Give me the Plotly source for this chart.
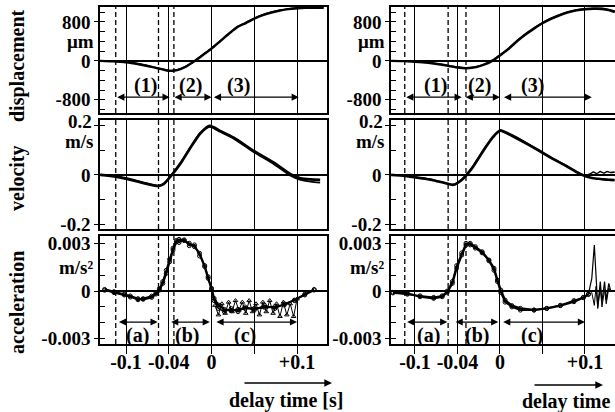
import plotly.graph_objects as go

W, H = 615, 412
FONT = "Liberation Serif"

# ---------------- shared axis labels ----------------
x_tick_vals = [-0.1, -0.05, 0, 0.05, 0.1]
x_tick_text = ["-0.1", "-0.04", "0", "", "+0.1"]
disp_tick_vals = [-800, 0, 800]
disp_tick_text = ["-800", "0", "800"]
vel_tick_vals = [-0.2, 0, 0.2]
vel_tick_text = ["-0.2", "0", ""]
vel_top_label, vel_top_label_y = "0.2", 0.218   # drawn slightly above its tick, as in the original
acc_tick_vals = [-0.003, 0, 0.003]
acc_tick_text = ["-0.003", "0", "0.003"]
row_titles = ["displacement", "velocity", "acceleration"]
row_units = ["\u03bcm", "m/s", "m/s\u00b2"]
row_unit_y = [395, 0.138, 0.0015]

# ---------------- left panel ----------------
L_phase_marks = [-0.112, -0.062, -0.044]

L_disp_t = [-0.130, -0.115, -0.100, -0.085, -0.075, -0.065, -0.055, -0.048, -0.040, -0.030,
            -0.020, -0.010, 0.000, 0.010, 0.020, 0.030, 0.040, 0.050, 0.060, 0.070,
            0.080, 0.090, 0.100, 0.110, 0.120, 0.131]
L_disp_a = [0, -10, -30, -70, -105, -145, -185, -205, -190, -120,
            -10, 120, 250, 400, 550, 690, 775, 865, 938, 992,
            1033, 1062, 1078, 1088, 1090, 1088]
L_disp_b = [0, -8, -25, -62, -98, -140, -180, -200, -185, -112,
            0, 130, 262, 410, 560, 700, 785, 872, 944, 998,
            1038, 1066, 1082, 1092, 1094, 1092]

L_vel_t = [-0.130, -0.112, -0.099, -0.079, -0.063, -0.056, -0.048, -0.036, -0.025, -0.013,
           -0.002, 0.010, 0.026, 0.050, 0.073, 0.093, 0.104, 0.116, 0.127]
L_vel_a = [0.000, -0.007, -0.016, -0.034, -0.045, -0.037, -0.007, 0.048, 0.109, 0.170,
           0.200, 0.180, 0.152, 0.097, 0.050, 0.002, -0.013, -0.018, -0.020]
L_vel_b = [0.002, -0.005, -0.013, -0.031, -0.043, -0.036, -0.004, 0.052, 0.112, 0.172,
           0.196, 0.176, 0.148, 0.092, 0.044, -0.004, -0.020, -0.027, -0.031]

L_acc_t = [-0.125, -0.114, -0.102, -0.095, -0.086, -0.080, -0.070, -0.065, -0.061, -0.057,
           -0.053, -0.049, -0.045, -0.041, -0.038, -0.032, -0.026, -0.020, -0.014, -0.008,
           -0.004, 0.000, 0.003, 0.008, 0.015, 0.023, 0.031, 0.039, 0.050, 0.062,
           0.074, 0.085, 0.097, 0.109, 0.120]
L_acc_a = [0.0001, -0.00004, -0.00019, -0.00031, -0.00048, -0.00052, -0.0004, -0.00019, 0.00006, 0.00048,
           0.00111, 0.00184, 0.00258, 0.0031, 0.00325, 0.00317, 0.003, 0.00279, 0.00237, 0.00153,
           0.0008, 0.00017, -0.00046, -0.00088, -0.00115, -0.00124, -0.00115, -0.00109, -0.00109, -0.00103,
           -0.00099, -0.00088, -0.00057, -0.00025, 0.00006]
L_acc_b = [0.00005, -0.0001, -0.00025, -0.00038, -0.00055, -0.00048, -0.00032, -0.00012, 0.00015, 0.0006,
           0.0013, 0.002, 0.0027, 0.00318, 0.00305, 0.00322, 0.00285, 0.0029, 0.0022, 0.0016,
           0.0009, 0.0001, -0.0006, -0.0011, -0.0013, -0.0011, -0.0013, -0.0010, -0.0012, -0.0009,
           -0.0011, -0.0008, -0.0006, -0.0002, 0.0001]
L_zig_t = [0.004, 0.008, 0.012, 0.016, 0.020, 0.024, 0.028, 0.032, 0.036, 0.040,
           0.044, 0.048, 0.052, 0.056, 0.060, 0.064, 0.068, 0.072, 0.076, 0.080,
           0.084, 0.088, 0.092, 0.096, 0.100]
L_zig = [-0.0009, -0.0015, -0.0008, -0.0014, -0.0007, -0.0013, -0.0006, -0.0012, -0.0007, -0.0014,
         -0.0006, -0.0013, -0.0008, -0.0015, -0.0007, -0.0013, -0.0006, -0.0014, -0.0008, -0.0016,
         -0.0007, -0.0015, -0.0008, -0.0016, -0.0005]

L_disp_spans = [[-0.112, -0.049], [-0.045, 0.0], [0.001, 0.102]]
L_disp_label_t = [-0.077, -0.025, 0.032]
L_acc_spans = [[-0.110, -0.063], [-0.049, -0.002], [0.004, 0.100]]
L_acc_label_t = [-0.087, -0.029, 0.039]

# ---------------- right panel ----------------
R_phase_marks = [-0.112, -0.061, -0.040]

R_disp_t = [-0.128, -0.112, -0.095, -0.080, -0.068, -0.060, -0.052, -0.044, -0.036, -0.028,
            -0.018, -0.008, 0.000, 0.010, 0.020, 0.030, 0.040, 0.050, 0.060, 0.070,
            0.080, 0.090, 0.100, 0.110, 0.120, 0.128, 0.135]
R_disp_a = [0, -5, -25, -50, -80, -105, -130, -148, -148, -130,
            -75, 10, 110, 240, 400, 540, 660, 770, 860, 935,
            995, 1035, 1058, 1068, 1065, 1040, 1000]
R_disp_b = [0, -3, -20, -45, -74, -100, -124, -142, -142, -122,
            -66, 22, 124, 256, 414, 555, 676, 785, 874, 948,
            1008, 1047, 1070, 1080, 1076, 1055, 1020]

R_vel_t = [-0.128, -0.112, -0.095, -0.080, -0.065, -0.055, -0.045, -0.033, -0.018, -0.008,
           0.000, 0.014, 0.030, 0.045, 0.060, 0.076, 0.090, 0.100, 0.106, 0.110,
           0.114, 0.118, 0.122, 0.126, 0.130, 0.135]
R_vel_a = [0.000, -0.004, -0.012, -0.020, -0.033, -0.040, -0.020, 0.027, 0.107, 0.155,
           0.180, 0.160, 0.130, 0.100, 0.070, 0.040, 0.012, -0.004, -0.010, -0.013,
           -0.015, -0.016, -0.018, -0.019, -0.020, -0.021]
R_vel_b = [0.002, -0.002, -0.010, -0.018, -0.031, -0.038, -0.017, 0.031, 0.111, 0.159,
           0.184, 0.164, 0.134, 0.104, 0.073, 0.043, 0.015, -0.002, 0.004, 0.012,
           0.006, 0.014, 0.008, 0.014, 0.010, 0.012]

R_acc_t = [-0.126, -0.109, -0.094, -0.078, -0.068, -0.062, -0.056, -0.051, -0.045, -0.040,
           -0.035, -0.029, -0.021, -0.013, -0.007, -0.003, 0.001, 0.006, 0.014, 0.024,
           0.040, 0.055, 0.071, 0.087, 0.098, 0.104]
R_acc_a = [-0.00008, -0.00015, -0.00036, -0.00046, -0.00036, -0.00008, 0.00048, 0.00143, 0.00226, 0.00289,
           0.003, 0.00279, 0.00247, 0.00195, 0.00143, 0.00069, 0.00006, -0.00057, -0.00092, -0.00109,
           -0.00119, -0.00109, -0.00092, -0.00067, -0.00042, -0.00021]
R_acc_b = [-0.00012, -0.0002, -0.0003, -0.0004, -0.0003, 0.0, 0.0006, 0.0016, 0.0024, 0.0030,
           0.0029, 0.0027, 0.0024, 0.0019, 0.0013, 0.0006, -0.0001, -0.0007, -0.0010, -0.0012,
           -0.0012, -0.0011, -0.0009, -0.0006, -0.0004, -0.0002]
R_tail_t = [0.104, 0.108, 0.111, 0.113, 0.115, 0.118, 0.120, 0.123, 0.125, 0.128, 0.130]
R_tail_a = [-0.00021, 0.0008, 0.00289, 0.001, -0.00099, 0.00059, -0.00067, 0.00059, -0.00057, 0.00048, 0.00006]
R_tail_b = [-0.0002, -0.0001, -0.0009, 0.0003, -0.0011, 0.0002, -0.0010, 0.0001, -0.0008, 0.0002, 0.0000]

R_disp_spans = [[-0.112, -0.045], [-0.042, 0.0], [0.003, 0.108]]
R_disp_label_t = [-0.076, -0.024, 0.038]
R_acc_spans = [[-0.111, -0.062], [-0.054, -0.002], [0.002, 0.100]]
R_acc_label_t = [-0.084, -0.027, 0.038]

disp_span_labels = ["(1)", "(2)", "(3)"]
acc_span_labels = ["(a)", "(b)", "(c)"]
disp_arrow_y, disp_label_y = -745, -500
acc_arrow_y, acc_label_y = -0.00195, -0.0028

# ---------------- layout geometry ----------------
LEFT_X = [100 / W, 327 / W]
RIGHT_X = [391 / W, 1.0]
ROW_Y = [[1 - 113 / H, 1 - 7 / H], [1 - 229 / H, 1 - 120 / H], [1 - 344 / H, 1 - 236 / H]]
X_RANGE = {"L": [-0.1304, 0.135], "R": [-0.1282, 0.1353]}
Y_RANGE = [[-1070, 1105], [-0.22, 0.224], [-0.00333, 0.00346]]
Y_TICKS = [(disp_tick_vals, disp_tick_text, 200), (vel_tick_vals, vel_tick_text, 0.1),
           (acc_tick_vals, acc_tick_text, 0.001)]

fig = go.Figure()
bold = dict(family=FONT, size=20, color="black", weight="bold")
bold_tick = dict(family=FONT, size=19, color="black", weight="bold")


def add_line(t, y, ax_id, width=2.5, marker=None, msize=4):
    xa = "x" if ax_id == 1 else f"x{ax_id}"
    ya = "y" if ax_id == 1 else f"y{ax_id}"
    kw = dict(mode="lines", line=dict(color="black", width=width, shape="spline", smoothing=0.6))
    if marker == "none":
        kw = dict(mode="lines", line=dict(color="black", width=width))
    elif marker:
        kw = dict(mode="lines+markers", line=dict(color="black", width=width),
                  marker=dict(symbol=marker, size=msize, color="black",
                              line=dict(color="black", width=1.0)))
    fig.add_trace(go.Scatter(x=t, y=y, xaxis=xa, yaxis=ya, showlegend=False,
                             hoverinfo="skip", **kw))


# left panel traces (axes 1..3)
add_line(L_disp_t, L_disp_a, 1, 2.4)
add_line(L_disp_t, L_disp_b, 1, 1.6)
add_line(L_vel_t, L_vel_a, 2, 2.6)
add_line(L_vel_t, L_vel_b, 2, 1.8)
add_line(L_zig_t, L_zig, 3, 1.0, marker="triangle-up-open", msize=4)
add_line(L_acc_t, L_acc_b, 3, 1.6, marker="circle-open")
add_line(L_acc_t, L_acc_a, 3, 2.2, marker="circle-open")
# right panel traces (axes 4..6)
add_line(R_disp_t, R_disp_a, 4, 2.4)
add_line(R_disp_t, R_disp_b, 4, 1.6)
add_line(R_vel_t, R_vel_a, 5, 2.6)
add_line(R_vel_t, R_vel_b, 5, 1.4)
add_line(R_acc_t, R_acc_b, 6, 1.6, marker="circle-open")
add_line(R_acc_t, R_acc_a, 6, 2.2, marker="circle-open")
add_line(R_tail_t, R_tail_a, 6, 1.2, marker="none")
add_line(R_tail_t, R_tail_b, 6, 1.0, marker="none")

layout = dict(width=W, height=H, margin=dict(l=0, r=0, t=0, b=0, autoexpand=False),
              paper_bgcolor="white", plot_bgcolor="white", font=bold, showlegend=False)

shapes, annotations = [], []
for p_idx, side in enumerate(["L", "R"]):
    marks = L_phase_marks if side == "L" else R_phase_marks
    for r in range(3):
        n = p_idx * 3 + r + 1
        xk = "xaxis" if n == 1 else f"xaxis{n}"
        yk = "yaxis" if n == 1 else f"yaxis{n}"
        xid = "x" if n == 1 else f"x{n}"
        yid = "y" if n == 1 else f"y{n}"
        bottom = r == 2
        layout[xk] = dict(domain=LEFT_X if side == "L" else RIGHT_X, anchor=yid,
                          range=X_RANGE[side], showline=True, mirror=True, linecolor="black",
                          linewidth=1.6, showgrid=True, gridcolor="black", gridwidth=1.3,
                          zeroline=False, tickvals=x_tick_vals, ticktext=x_tick_text,
                          showticklabels=bottom, ticks="outside" if bottom else "",
                          ticklen=8, tickwidth=1.3, tickcolor="black", tickfont=bold,
                          ticklabelstandoff=-9, automargin=False)
        tv, tt, dt = Y_TICKS[r]
        layout[yk] = dict(domain=ROW_Y[r], anchor=xid, range=Y_RANGE[r], showline=True,
                          mirror=True, linecolor="black", linewidth=1.6, showgrid=False,
                          zeroline=True, zerolinecolor="black", zerolinewidth=1.5,
                          tickvals=tv, ticktext=tt, ticks="outside", ticklen=4, tickwidth=1.3,
                          tickcolor="black", tickfont=bold_tick, automargin=False,
                          minor=dict(dtick=dt, tick0=0, ticks="inside", ticklen=5,
                                     tickwidth=1.3, tickcolor="black", showgrid=False))
        for m in marks:
            shapes.append(dict(type="line", xref=xid, yref=f"{yid} domain", x0=m, x1=m,
                               y0=0, y1=1, line=dict(color="black", width=1.3, dash="5px,3px")))
        # unit label under the top tick label
        annotations.append(dict(text=row_units[r], xref=f"{xid} domain", yref=yid,
                                x=-4 / 227, y=row_unit_y[r], xanchor="right", yanchor="middle",
                                showarrow=False, font=bold_tick))
        if r == 1:
            annotations.append(dict(text=vel_top_label, xref=f"{xid} domain", yref=yid,
                                    x=-6 / 227, y=vel_top_label_y, xanchor="right",
                                    yanchor="middle", showarrow=False, font=bold_tick))
        # phase arrows
        if r in (0, 2):
            if r == 0:
                spans = L_disp_spans if side == "L" else R_disp_spans
                lab_t = L_disp_label_t if side == "L" else R_disp_label_t
                labs, ay_, ly = disp_span_labels, disp_arrow_y, disp_label_y
            else:
                spans = L_acc_spans if side == "L" else R_acc_spans
                lab_t = L_acc_label_t if side == "L" else R_acc_label_t
                labs, ay_, ly = acc_span_labels, acc_arrow_y, acc_label_y
            for (a0, a1), lt, lb in zip(spans, lab_t, labs):
                annotations.append(dict(text="", xref=xid, yref=yid, axref=xid, ayref=yid,
                                        x=a1, y=ay_, ax=a0, ay=ay_, showarrow=True,
                                        arrowhead=2, arrowside="end+start", arrowsize=1.1,
                                        arrowwidth=1.3, arrowcolor="black", standoff=0,
                                        startstandoff=0))
                annotations.append(dict(text=lb, xref=xid, yref=yid, x=lt, y=ly,
                                        xanchor="center", yanchor="middle",
                                        showarrow=False, font=bold))

# row titles
for r, (title, yc) in enumerate(zip(row_titles, [66, 178, 303])):
    annotations.append(dict(text=title, xref="paper", yref="paper", x=17 / W, y=1 - yc / H,
                            textangle=-90, showarrow=False, font=bold,
                            xanchor="center", yanchor="middle"))

# delay time labels and arrows
annotations.append(dict(text="delay time [s]", xref="paper", yref="paper", x=286 / W,
                        y=1 - 400 / H, xanchor="center", yanchor="middle",
                        showarrow=False, font=bold))
annotations.append(dict(text="delay time", xref="paper", yref="paper", x=566 / W,
                        y=1 - 401 / H, xanchor="center", yanchor="middle",
                        showarrow=False, font=bold))
annotations.append(dict(text="", xref="paper", yref="paper", x=332 / W, y=1 - 383 / H,
                        ax=-89, ay=0, showarrow=True, arrowhead=2, arrowsize=1.1,
                        arrowwidth=1.4, arrowcolor="black"))
annotations.append(dict(text="", xref="paper", yref="paper", x=603 / W, y=1 - 385 / H,
                        ax=-70, ay=0, showarrow=True, arrowhead=2, arrowsize=1.1,
                        arrowwidth=1.4, arrowcolor="black"))

layout["shapes"] = shapes
layout["annotations"] = annotations
fig.update_layout(**layout)
fig.write_html("out.html", config={"displayModeBar": False},
               post_script="document.body.style.margin='0px';document.body.style.overflow='hidden';")
